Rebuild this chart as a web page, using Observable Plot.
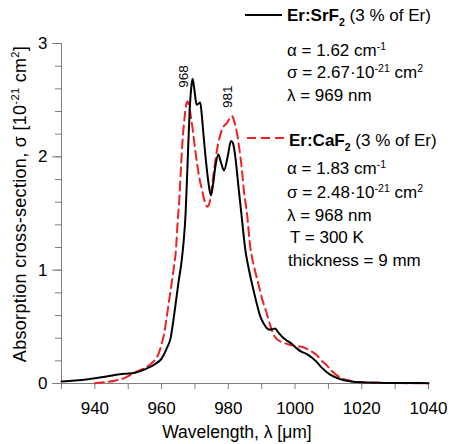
<!DOCTYPE html>
<html><head><meta charset="utf-8">
<script src="https://cdn.jsdelivr.net/npm/d3@7"></script>
<script src="https://cdn.jsdelivr.net/npm/@observablehq/plot@0.6"></script>
<style>
body{margin:0;background:#fff;}
#wrap{position:relative;width:449px;height:444px;font-family:"Liberation Sans",Arial,sans-serif;}
#wrap svg{position:absolute;left:0;top:0;}
</style></head><body><div id="wrap"></div>
<script>
// Er:SrF2 (solid black)
const srfLambda = [930,934,938,940,943,946,949,952,955,958,960,961.7,962.7,963.5,964.2,965,966,966.6,967.2,967.8,968.4,969.0,969.3,969.8,970.5,971.1,971.6,972.1,972.6,973.6,974.3,974.8,975.4,976.1,977.0,977.8,978.7,979.8,980.8,981.4,982.1,983.1,983.8,985.1,986,987.1,988.4,989.6,990.6,991.5,992.5,993.3,994,995,996.2,997.5,999,1000.5,1002,1003.5,1005,1006.5,1008,1010.4,1013.4,1016.4,1020,1025,1030,1035,1040];
const srfSigma  = [0.018,0.026,0.038,0.046,0.06,0.076,0.086,0.095,0.125,0.17,0.22,0.32,0.4,0.55,0.7,0.88,1.08,1.25,1.5,1.95,2.4,2.64,2.69,2.6,2.46,2.47,2.48,2.35,2.18,1.88,1.72,1.66,1.75,1.91,2.02,1.95,1.88,2.0,2.14,2.12,2.0,1.72,1.53,1.18,1.03,0.88,0.72,0.59,0.53,0.49,0.475,0.48,0.485,0.45,0.41,0.38,0.35,0.31,0.28,0.26,0.23,0.19,0.14,0.08,0.04,0.02,0.01,0.006,0.005,0.004,0.003];
// Er:CaF2 (dashed red)
const cafLambda = [940,943,946.3,949,952.2,954.5,956.7,958,959.2,960,960.7,961.5,962.2,963,963.7,964.3,964.8,965.3,965.8,966.3,966.9,967.7,968.4,969.2,969.9,970.6,971.4,972.1,973,973.7,974.4,975.1,975.9,976.6,977.3,978.1,979.6,981.1,981.9,982.6,983.4,984.1,984.6,985.6,986.6,987.8,989,990.2,991.5,992.7,994,995.7,997.5,1000,1002.4,1004.5,1006.5,1008,1009.5,1011,1013.4,1016.4,1020,1025,1030,1035,1040];
const cafSigma  = [0.003,0.012,0.027,0.05,0.1,0.13,0.17,0.21,0.27,0.35,0.43,0.58,0.72,0.88,1.03,1.18,1.42,1.62,1.9,2.15,2.35,2.49,2.42,2.27,2.1,1.95,1.8,1.71,1.6,1.56,1.6,1.74,1.92,2.06,2.16,2.24,2.3,2.36,2.3,2.21,2.05,1.88,1.72,1.5,1.2,1.02,0.88,0.74,0.62,0.5,0.41,0.37,0.35,0.33,0.32,0.29,0.25,0.2,0.16,0.11,0.055,0.025,0.01,0.006,0.004,0.003,0.002];
// peak annotations
const peakLambda = [966.6, 979.7];
const peakSigma = [2.61, 2.43];
const peakLabels = ["968", "981"];
// ticks
const xMajorTicks = d3.range(930, 1041, 10);
const yMajorTicks = [0, 1, 2, 3];
const yMinorTicks = d3.range(0, 3.0001, 0.2);

const srf = srfLambda.map((x, i) => ({x, y: srfSigma[i]}));
const caf = cafLambda.map((x, i) => ({x, y: cafSigma[i]}));
const peaks = peakLambda.map((x, i) => ({x, y: peakSigma[i], label: peakLabels[i]}));
const axisGray = "#7f7f7f";
const red = "#ee2020";

const chart = Plot.plot({
  width: 449, height: 444,
  marginLeft: 61, marginRight: 21, marginTop: 43, marginBottom: 61,
  style: {fontFamily: '"Liberation Sans", Arial, sans-serif', fontSize: "17px", background: "#fff", color: "#000"},
  x: {domain: [930, 1040], axis: null},
  y: {domain: [0, 3], axis: null},
  marks: [
    Plot.axisY({ticks: yMinorTicks, tickSize: 6, tickFormat: () => "", stroke: axisGray, label: null}),
    Plot.axisY({ticks: yMajorTicks, tickSize: 9, tickPadding: 5, stroke: axisGray, fontSize: 17, label: null,
      tickFormat: d => String(d)}),
    Plot.axisX({ticks: xMajorTicks, tickSize: 6, tickPadding: 12, stroke: axisGray, fontSize: 17, label: null,
      tickFormat: d => ((d - 940) % 20 === 0 ? String(d) : "")}),
    Plot.ruleX([930], {y1: 0, y2: 3, stroke: axisGray}),
    Plot.ruleY([0], {stroke: axisGray}),
    Plot.line(caf, {x: "x", y: "y", stroke: red, strokeWidth: 2, strokeDasharray: "9,5", curve: "monotone-x"}),
    Plot.line(srf, {x: "x", y: "y", stroke: "#000", strokeWidth: 2, curve: "monotone-x"}),
    Plot.text(peaks, {x: "x", y: "y", text: "label", rotate: -90, textAnchor: "start", fontSize: 13.5, fill: "#000"})
  ]
});
const wrap = document.getElementById("wrap");
wrap.appendChild(chart);

// overlay: legend and axis titles with sub/superscripts
const ov = d3.select(wrap).append("svg").attr("width", 449).attr("height", 444)
  .style("font-family", '"Liberation Sans", Arial, sans-serif');

function rich(g, parts, size) {
  const t = g.append("text").attr("font-size", size).attr("fill", "#000");
  let cur = 0;
  for (const p of parts) {
    const shift = p.sup ? -0.38 * size : p.sub ? 0.3 * size : 0;
    const s = t.append("tspan").text(p.t).attr("dy", shift - cur)
      .attr("font-size", (p.sup || p.sub) ? size * 0.62 : size);
    if (p.bold) s.attr("font-weight", "bold");
    cur = shift;
  }
  return t;
}
const LS = 17;
// legend entries
ov.append("line").attr("x1", 245).attr("x2", 282).attr("y1", 15).attr("y2", 15).attr("stroke", "#000").attr("stroke-width", 2);
rich(ov, [{t: "Er:SrF", bold: true}, {t: "2", sub: true, bold: true}, {t: " (3 % of Er)"}], LS).attr("x", 287).attr("y", 21);
rich(ov, [{t: "α = 1.62 cm"}, {t: "-1", sup: true}], LS).attr("x", 287).attr("y", 56);
rich(ov, [{t: "σ = 2.67·10"}, {t: "-21", sup: true}, {t: " cm"}, {t: "2", sup: true}], LS).attr("x", 287).attr("y", 78);
rich(ov, [{t: "λ = 969 nm"}], LS).attr("x", 287).attr("y", 101);

ov.append("line").attr("x1", 247).attr("x2", 287).attr("y1", 138).attr("y2", 138).attr("stroke", red).attr("stroke-width", 2).attr("stroke-dasharray", "9,5");
rich(ov, [{t: "Er:CaF", bold: true}, {t: "2", sub: true, bold: true}, {t: " (3 % of Er)"}], LS).attr("x", 289).attr("y", 146);
rich(ov, [{t: "α = 1.83 cm"}, {t: "-1", sup: true}], LS).attr("x", 287).attr("y", 174);
rich(ov, [{t: "σ = 2.48·10"}, {t: "-21", sup: true}, {t: " cm"}, {t: "2", sup: true}], LS).attr("x", 287).attr("y", 198);
rich(ov, [{t: "λ = 968 nm"}], LS).attr("x", 287).attr("y", 221);
rich(ov, [{t: "T = 300 K"}], LS).attr("x", 290).attr("y", 243);
rich(ov, [{t: "thickness = 9 mm"}], LS).attr("x", 288).attr("y", 266);

// axis titles
rich(ov, [{t: "Wavelength, λ [μm]"}], 17.5).attr("x", 237).attr("y", 438).attr("text-anchor", "middle");
rich(ov, [{t: "Absorption cross-section, σ [10"}, {t: "-21", sup: true}, {t: " cm"}, {t: "2", sup: true}, {t: "]"}], 18)
  .attr("text-anchor", "middle").attr("letter-spacing", "0.3").attr("transform", "translate(26,204) rotate(-90)");
</script></body></html>
